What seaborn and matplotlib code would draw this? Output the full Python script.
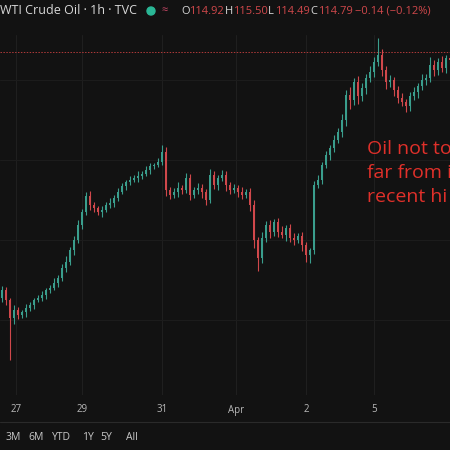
import numpy as np
import pandas as pd
import seaborn as sns
import matplotlib
matplotlib.use("Agg")
import matplotlib.pyplot as plt

closes = [91.0, 90.0, 88.2, 89.0, 88.5, 88.8, 89.2, 89.5, 90.0, 90.2, 90.5, 91.0, 91.2, 91.7, 92.2, 93.2,
          93.8, 95.0, 96.0, 97.5, 98.8, 100.4, 99.5, 99.2, 98.8, 99.0, 99.5, 99.7, 100.2, 100.8, 101.4, 101.8,
          102.0, 102.2, 102.4, 102.6, 103.0, 103.4, 103.5, 103.8, 104.8, 101.0, 100.5, 100.8, 101.2, 101.0, 102.2,
          100.5, 101.0, 101.2, 100.8, 100.0, 102.5, 101.5, 102.2, 102.5, 101.5, 101.0, 101.2, 100.8, 100.5, 100.8,
          99.5, 96.0, 94.2, 96.2, 97.5, 96.8, 97.8, 96.8, 96.5, 97.2, 96.2, 96.0, 96.4, 95.5, 94.5, 95.0, 101.5,
          102.0, 103.5, 104.5, 105.2, 106.0, 106.8, 108.0, 110.5, 110.0, 111.8, 110.4, 111.2, 112.2, 112.8, 113.8,
          114.5, 113.0, 111.8, 112.0, 111.0, 110.2, 109.8, 109.4, 110.4, 110.8, 111.4, 112.0, 112.2, 113.5, 113.0,
          113.8, 113.2, 114.2, 114.0]
first_open = 90.2
upper_wicks = [0.4, 0.3, 0.2, 0.5, 0.3, 0.2, 0.4, 0.3, 0.2, 0.3, 0.4, 0.2, 0.3, 0.5, 0.3, 0.4,
               0.6, 0.3, 0.4, 0.5, 0.3, 0.4, 0.5, 0.3, 0.2, 0.4, 0.3, 0.5, 0.3, 0.4, 0.3, 0.2,
               0.4, 0.3, 0.5, 0.3, 0.4, 0.3, 0.2, 0.4, 0.7, 0.5, 0.3, 0.4, 0.6, 0.3, 0.5,
               0.4, 0.3, 0.5, 0.4, 0.3, 0.6, 0.4, 0.3, 0.5, 0.4, 0.3, 0.4, 0.3, 0.5, 0.3,
               0.4, 0.5, 0.3, 0.6, 0.4, 0.5, 0.3, 0.4, 0.6, 0.3, 0.4, 0.5, 0.3, 0.4, 0.3, 0.2, 0.4,
               0.5, 0.3, 0.4, 0.3, 0.5, 0.4, 0.6, 0.5, 0.8, 0.4, 0.6, 0.5, 0.4, 0.6, 0.5,
               1.7, 0.6, 0.4, 0.5, 0.3, 0.4, 0.5, 0.3, 0.4, 0.5, 0.3, 0.6, 0.4, 0.8, 0.5,
               0.4, 0.6, 0.3, 0.3]
lower_wicks = [0.4, 0.5, 4.2, 0.6, 0.4, 0.3, 0.5, 0.3, 0.4, 0.2, 0.3, 0.4, 0.3, 0.2, 0.4, 0.3,
               0.4, 0.3, 0.5, 0.3, 0.4, 0.3, 0.5, 0.4, 0.3, 0.5, 0.2, 0.3, 0.4, 0.3, 0.2, 0.4,
               0.3, 0.2, 0.4, 0.3, 0.2, 0.4, 0.3, 0.2, 0.3, 0.6, 0.4, 0.3, 0.5, 0.4, 0.3,
               0.5, 0.3, 0.4, 0.6, 0.5, 0.3, 0.4, 0.5, 0.3, 0.6, 0.4, 0.3, 0.5, 0.4, 0.3,
               0.6, 0.8, 1.3, 0.5, 0.4, 0.6, 0.4, 0.5, 0.3, 0.6, 0.4, 0.5, 0.3, 0.6, 0.7, 0.8, 0.4,
               0.3, 0.4, 0.3, 0.5, 0.4, 0.3, 0.5, 0.6, 0.9, 0.5, 0.8, 0.5, 0.6, 0.4, 0.5,
               0.4, 0.6, 0.7, 0.5, 0.6, 0.5, 0.4, 0.6, 0.5, 0.4, 0.6, 0.4, 0.5, 0.4, 0.6,
               0.5, 0.4, 0.5, 0.4]
tick_pos = [3.5, 20, 40, 58.5, 76, 93]
tick_labels = ["27", "29", "31", "Apr", "2", "5"]
range_buttons = ["3M", "6M", "YTD", "1Y", "5Y", "All"]

opens = [first_open] + closes[:-1]
df = pd.DataFrame({"i": np.arange(len(closes)), "open": opens, "close": closes,
                   "uw": upper_wicks, "lw": lower_wicks})
df["high"] = df[["open", "close"]].max(axis=1) + df["uw"]
df["low"] = df[["open", "close"]].min(axis=1) - df["lw"]
UP, DN = "#3a9e8d", "#d0484b"
df["col"] = np.where(df["close"] >= df["open"], UP, DN)

BG = "#121212"
sns.set_style("dark", {"axes.facecolor": BG, "figure.facecolor": BG})
plt.rcParams["font.family"] = ["Open Sans", "DejaVu Sans"]
fig = plt.figure(figsize=(4.5, 4.5), dpi=100)
ax = fig.add_axes([0, 55 / 450, 1, 360 / 450])
ax.set_facecolor(BG)
for t in tick_pos:
    ax.axvline(t, color="#1f1f1f", lw=0.8, zorder=0)
for yv in [88, 96, 104, 112]:
    ax.axhline(yv, color="#1c1c1c", lw=0.8, zorder=0)
ax.vlines(df["i"], df["low"], df["high"], colors=df["col"], lw=0.8, zorder=2)
ax.bar(df["i"], (df["close"] - df["open"]).abs().clip(lower=0.12),
       bottom=df[["open", "close"]].min(axis=1), width=0.65, color=df["col"],
       linewidth=0, edgecolor="none", zorder=3)
ax.axhline(closes[-1] + 0.8, color="#b03a3a", lw=0.7, ls=(0, (1.5, 1.5)), zorder=1)
ax.set_xlim(-0.5, 112)
ax.set_ylim(80.5, 116.5)
ax.set_xticks([]); ax.set_yticks([])
for s in ax.spines.values():
    s.set_visible(False)

for t, lab in zip(tick_pos, tick_labels):
    fig.text((t * 4 + 2) / 450, 1 - 410 / 450, lab, color="#b8b8b8", fontsize=7, ha="center", va="center")
fig.add_artist(plt.Line2D([0, 1], [1 - 422 / 450] * 2, color="#2a2a2a", lw=0.8))
xs = [5, 28, 52, 82, 100, 126]
for x, lab in zip(xs, range_buttons):
    fig.text(x / 450, 1 - 438 / 450, lab, color="#c8c8c8", fontsize=7.5, ha="left", va="center")

fig.text(0, 1 - 11 / 450, "WTI Crude Oil · 1h · TVC", color="#d8d8d8", fontsize=9, ha="left", va="center")
fig.patches.append(plt.Circle((151 / 450, 1 - 11 / 450), 4 / 450, color="#2ab796", transform=fig.transFigure, figure=fig))
fig.text(165 / 450, 1 - 11 / 450, "≈", color="#d04a6a", fontsize=8, ha="center", va="center")
fig.text(181 / 450, 1 - 11 / 450, "O", color="#d8d8d8", fontsize=8, ha="left", va="center")
fig.text(189 / 450, 1 - 11 / 450, "114.92", color="#d0484b", fontsize=8, ha="left", va="center")
fig.text(225 / 450, 1 - 11 / 450, "H", color="#d8d8d8", fontsize=8, ha="left", va="center")
fig.text(233 / 450, 1 - 11 / 450, "115.50", color="#d0484b", fontsize=8, ha="left", va="center")
fig.text(268 / 450, 1 - 11 / 450, "L", color="#d8d8d8", fontsize=8, ha="left", va="center")
fig.text(275 / 450, 1 - 11 / 450, "114.49", color="#d0484b", fontsize=8, ha="left", va="center")
fig.text(310 / 450, 1 - 11 / 450, "C", color="#d8d8d8", fontsize=8, ha="left", va="center")
fig.text(318 / 450, 1 - 11 / 450, "114.79", color="#d0484b", fontsize=8, ha="left", va="center")
fig.text(355 / 450, 1 - 11 / 450, "−0.14 (−0.12%)", color="#d0484b", fontsize=8, ha="left", va="center")

fig.text(367 / 450, 1 - 173 / 450, "Oil not to\nfar from i\nrecent hi", color="#e0302a",
         fontsize=14, ha="left", va="center", linespacing=1.45)
fig.savefig("out.png", dpi=100, facecolor=BG)
